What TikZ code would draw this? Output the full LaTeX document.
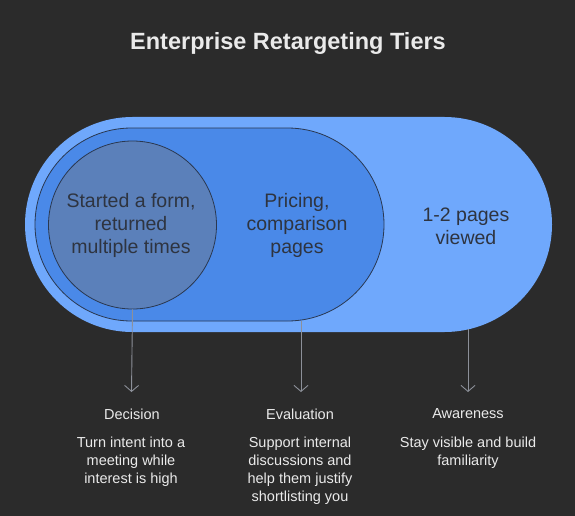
\documentclass[tikz,border=0pt]{standalone}
\usepackage{fontspec}
\setmainfont{Liberation Sans}
\usetikzlibrary{shapes.misc,arrows.meta}
\definecolor{bg}{HTML}{2B2B2B}
\definecolor{outerblue}{HTML}{6FA8FC}
\definecolor{midblue}{HTML}{4A89E8}
\definecolor{innerblue}{HTML}{5B80BA}
\definecolor{edgec}{HTML}{2A3850}
\definecolor{txtdark}{HTML}{2E3440}
\definecolor{txtlight}{HTML}{EAEAEA}
\definecolor{arrc}{HTML}{8C9099}
\begin{document}
\begin{tikzpicture}[x=1pt,y=-1pt,
  tier/.style={rounded rectangle, inner sep=0pt},
  shapetext/.style={align=center, text=txtdark, font=\fontsize{19.5}{23}\selectfont},
  headtext/.style={align=center, text=txtlight, font=\fontsize{14.5}{18}\selectfont},
  desctext/.style={align=center, text=txtlight, font=\fontsize{14.5}{18}\selectfont},
  arr/.style={draw=arrc, line width=0.9pt, -{Straight Barb[length=6pt,width=14pt,line width=0.9pt]}}]
\fill[bg] (0,0) rectangle (575,516);
\useasboundingbox (0,0) rectangle (575,516);

\node[font=\bfseries\fontsize{23.5}{28}\selectfont, text=txtlight] (title) at (288,43) {Enterprise Retargeting Tiers};

\node[tier, fill=outerblue, minimum width=527pt, minimum height=215pt] (outer) at (288.5,224.5) {};
\node[tier, fill=midblue, draw=edgec, line width=0.8pt, minimum width=349pt, minimum height=193pt] (mid) at (209.5,224.5) {};
\node[circle, fill=innerblue, draw=edgec, line width=0.8pt, minimum size=168pt, inner sep=0pt] (circ) at (132.5,225) {};

\node[shapetext] (t_in) at (131,225) {Started a form,\\returned\\multiple times};
\node[shapetext] (t_mid) at (297,225) {Pricing,\\comparison\\pages};
\node[shapetext] (t_out) at (466,226) {1-2 pages\\viewed};

\coordinate (e1) at (131.5,392);
\coordinate (e2) at (301,392);
\coordinate (e3) at (468,392);
\draw[arr] (circ.south) -- (e1);
\draw[arr] (mid.south -| e2) -- (e2);
\draw[arr] ([yshift=3pt]outer.south -| e3) -- (e3);

\node[headtext] (h1) at (132,414) {Decision};
\node[headtext] (h2) at (300,414) {Evaluation};
\node[headtext] (h3) at (468,414) {Awareness};

\node[desctext] (d1) at (131,462) {Turn intent into a\\meeting while\\interest is high};
\node[desctext] (d2) at (300,471) {Support internal\\discussions and\\help them justify\\shortlisting you};
\node[desctext] (d3) at (468,453) {Stay visible and build\\familiarity};
\end{tikzpicture}
\end{document}
